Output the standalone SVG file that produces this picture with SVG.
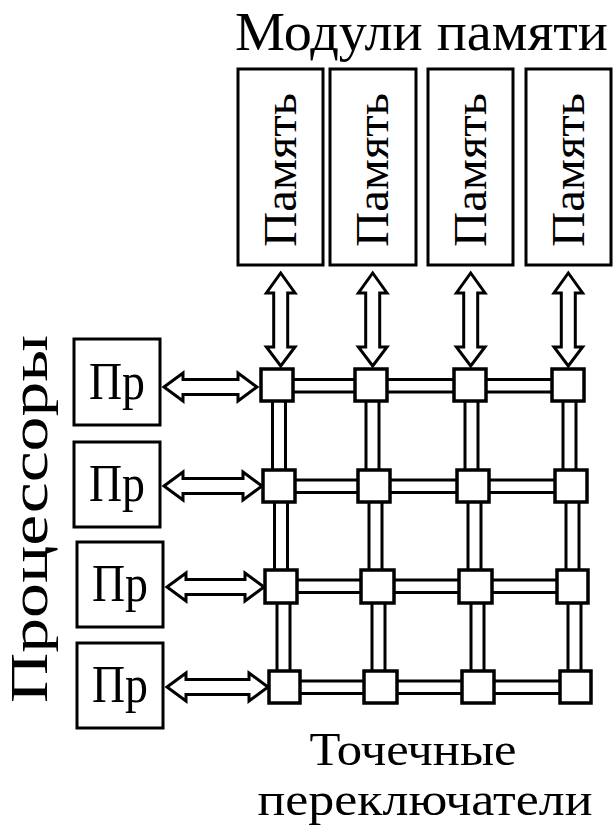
<svg xmlns="http://www.w3.org/2000/svg" width="613" height="835" viewBox="0 0 613 835">
<style>
.box{fill:#fff;stroke:#000;stroke-width:3}
.sw{fill:#fff;stroke:#000;stroke-width:3.5}
.arr{fill:#fff;stroke:#000;stroke-width:3;stroke-linejoin:miter}
.pipe{stroke:#000;stroke-width:3;fill:none}
.t{font-family:"Liberation Serif","Times New Roman",serif;fill:#000}
</style>
<rect width="613" height="835" fill="#fff"/>
<text class="t" x="421.5" y="50" font-size="55" text-anchor="middle" textLength="373" lengthAdjust="spacingAndGlyphs">Модули памяти</text>
<g id="memory">
<g id="mem1"><rect class="box" x="238" y="69" width="85" height="196"/><text class="t" font-size="47" text-anchor="middle" transform="translate(295.5,170) rotate(-90)" textLength="154" lengthAdjust="spacingAndGlyphs">Память</text></g>
<g id="mem2"><rect class="box" x="330" y="69" width="86" height="196"/><text class="t" font-size="47" text-anchor="middle" transform="translate(388,170) rotate(-90)" textLength="154" lengthAdjust="spacingAndGlyphs">Память</text></g>
<g id="mem3"><rect class="box" x="428" y="69" width="85" height="196"/><text class="t" font-size="47" text-anchor="middle" transform="translate(485.5,170) rotate(-90)" textLength="154" lengthAdjust="spacingAndGlyphs">Память</text></g>
<g id="mem4"><rect class="box" x="526" y="69" width="85" height="196"/><text class="t" font-size="47" text-anchor="middle" transform="translate(583.5,170) rotate(-90)" textLength="154" lengthAdjust="spacingAndGlyphs">Память</text></g>
</g>
<text class="t" font-size="52" text-anchor="middle" transform="translate(47,519) rotate(-90)" textLength="368" lengthAdjust="spacingAndGlyphs">Процессоры</text>
<g id="processors">
<g id="cpu1"><rect class="box" x="74" y="339" width="86" height="86"/><text class="t" x="117" y="399" font-size="52" text-anchor="middle" textLength="56" lengthAdjust="spacingAndGlyphs">Пр</text></g>
<g id="cpu2"><rect class="box" x="74" y="442" width="86" height="85"/><text class="t" x="117" y="501" font-size="52" text-anchor="middle" textLength="56" lengthAdjust="spacingAndGlyphs">Пр</text></g>
<g id="cpu3"><rect class="box" x="77" y="542" width="86" height="85"/><text class="t" x="120" y="601" font-size="52" text-anchor="middle" textLength="56" lengthAdjust="spacingAndGlyphs">Пр</text></g>
<g id="cpu4"><rect class="box" x="77" y="643" width="86" height="85"/><text class="t" x="120" y="702" font-size="52" text-anchor="middle" textLength="56" lengthAdjust="spacingAndGlyphs">Пр</text></g>
</g>
<g id="connectors">
<path class="pipe" d="M277,379.5H568M277,392H568"/>
<path class="pipe" d="M279,480H571M279,492.5H571"/>
<path class="pipe" d="M281,580H573M281,592.5H573"/>
<path class="pipe" d="M285,681H576M285,693.5H576"/>
<path class="pipe" d="M272.5,385V486M285.5,385V486M274.5,486V586M287.5,486V586M277,586V687M290,586V687"/>
<path class="pipe" d="M366,385V486M379,385V486M369,486V586M382,486V586M372,586V687M385,586V687"/>
<path class="pipe" d="M465,385V486M478,385V486M468,486V586M481,486V586M471,586V687M484,586V687"/>
<path class="pipe" d="M563,385V486M576,385V486M566,486V586M579,486V586M568,586V687M581,586V687"/>
<path class="arr" d="M280.7,273L295,293H287.7V347H295L280.7,366L266.4,347H273.7V293H266.4Z"/>
<path class="arr" d="M372.7,273L387,293H379.7V347H387L372.7,366L358.4,347H365.7V293H358.4Z"/>
<path class="arr" d="M470.7,273L485,293H477.7V347H485L470.7,366L456.4,347H463.7V293H456.4Z"/>
<path class="arr" d="M568.3,273L582.6,293H575.3V347H582.6L568.3,366L554,347H561.3V293H554Z"/>
<path class="arr" d="M164,387L183,373V379.5H238V373L257,387L238,401V394.5H183V401Z"/>
<path class="arr" d="M164,486L183,472V478.5H243V472L262,486L243,500V493.5H183V500Z"/>
<path class="arr" d="M167,587L186,573V579.5H245V573L264,587L245,601V594.5H186V601Z"/>
<path class="arr" d="M167,687L186,673V679.5H249V673L268,687L249,701V694.5H186V701Z"/>
</g>
<g id="switches">
<rect class="sw" x="261" y="369" width="32" height="32"/>
<rect class="sw" x="355" y="369" width="32" height="32"/>
<rect class="sw" x="454" y="369" width="32" height="32"/>
<rect class="sw" x="552" y="369" width="32" height="32"/>
<rect class="sw" x="263" y="470" width="32" height="32"/>
<rect class="sw" x="358" y="470" width="32" height="32"/>
<rect class="sw" x="457" y="470" width="32" height="32"/>
<rect class="sw" x="555" y="470" width="32" height="32"/>
<rect class="sw" x="265" y="570" width="32" height="33"/>
<rect class="sw" x="361" y="570" width="33" height="33"/>
<rect class="sw" x="459" y="570" width="33" height="33"/>
<rect class="sw" x="557" y="570" width="31" height="33"/>
<rect class="sw" x="269" y="671" width="31" height="32"/>
<rect class="sw" x="364" y="671" width="33" height="32"/>
<rect class="sw" x="462" y="671" width="32" height="32"/>
<rect class="sw" x="560" y="671" width="31" height="32"/>
</g>
<text class="t" x="413" y="765" font-size="47" text-anchor="middle" textLength="207" lengthAdjust="spacingAndGlyphs">Точечные</text>
<text class="t" x="425" y="815" font-size="47" text-anchor="middle" textLength="335" lengthAdjust="spacingAndGlyphs">переключатели</text>
</svg>
